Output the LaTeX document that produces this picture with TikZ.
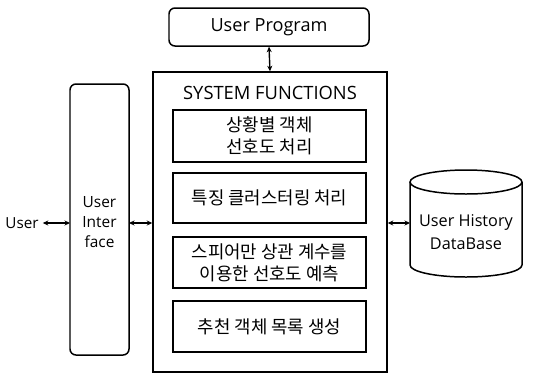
\documentclass[tikz,border=0pt]{standalone}
\usepackage{fontspec}
\setmainfont{Open Sans}
\newfontfamily\kr{Noto Sans CJK KR}
\usetikzlibrary{arrows.meta}
\begin{document}
\begin{tikzpicture}[x=1bp,y=-1bp,
  lat/.style={font=\fontsize{#1}{21}\selectfont},
  lat/.default=18.2,
  korf/.style={font=\kr\fontsize{17.9}{22}\selectfont},
  box/.style={draw,line width=1.5pt,inner sep=0pt,align=center},
  rbox/.style={box,rounded corners=6bp},
  conn/.style={line width=1.4pt,{Stealth[length=5.5bp,width=5bp]}-{Stealth[length=5.5bp,width=5bp]}}]
\useasboundingbox (0,0) rectangle (537,374);
% User Program
\node[rbox,lat=18.2,minimum width=200bp,minimum height=38bp] (up) at (269,27) {User Program};
% System
\node[box,minimum width=234bp,minimum height=300bp] (sys) at (270,222) {};
\node[lat=18.4,inner sep=0pt] (sft) at (270,93) {SYSTEM FUNCTIONS};
\node[box,korf,minimum width=193bp,minimum height=52bp] (f1) at (269.5,136) {상황별 객체\\선호도 처리};
\node[box,korf,minimum width=193bp,minimum height=50bp] (f2) at (269.5,198) {특징 클러스터링 처리};
\node[box,korf,minimum width=193bp,minimum height=51bp] (f3) at (269.5,262.5) {스피어만 상관 계수를\\이용한 선호도 예측};
\node[box,korf,minimum width=193bp,minimum height=51bp] (f4) at (269.5,326.5) {추천 객체 목록 생성};
% User Interface
\node[rbox,minimum width=59bp,minimum height=271bp] (ui) at (99.5,219.5) {};
\node[font=\fontsize{15.5}{20.5}\selectfont,align=center,inner sep=0pt] (uit) at (99.5,222) {User\\Inter\\face};
% User
\node[lat=15.3,inner sep=0pt] (user) at (22,223) {User};
\coordinate (uiw) at (70,223);
\coordinate (uie) at (129,223);
% DB cylinder
\draw[line width=1.5pt] (410,182) -- (410,265) arc[start angle=180,end angle=0,x radius=56,y radius=12] -- (522,182);
\draw[line width=1.5pt] (466,182) ellipse[x radius=56,y radius=12];
\node[font=\fontsize{16.3}{23}\selectfont,align=center,inner sep=0pt] (db) at (466,232) {User History\\DataBase};
\coordinate (dbw) at (410,223);
% connectors
\draw[conn] (up.south) -- (sys.north);
\draw[conn] ([xshift=4bp]user.east) -- (uiw);
\draw[conn] (uie) -- (sys.west |- uie);
\draw[conn] (sys.east |- dbw) -- (dbw);
\end{tikzpicture}
\end{document}
